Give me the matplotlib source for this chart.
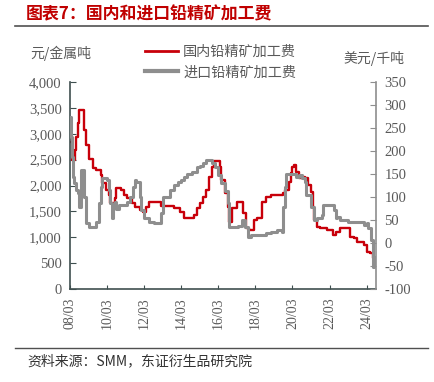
import pandas as pd
import matplotlib
matplotlib.use("Agg")
import matplotlib.pyplot as plt
import matplotlib.dates as mdates
from matplotlib.ticker import FuncFormatter, MultipleLocator
from matplotlib.lines import Line2D

# 国内铅精矿加工费 (元/金属吨), left axis
dom_dates = ["2008-03", "2008-04", "2008-06", "2008-07", "2008-08", "2008-09", "2008-12",
             "2009-01", "2009-03", "2009-06", "2009-08", "2009-11", "2009-12", "2010-02",
             "2010-04", "2010-05", "2010-08", "2010-09", "2010-12", "2011-02", "2011-04",
             "2011-07", "2011-09", "2011-12", "2012-02", "2012-04", "2012-06", "2013-02",
             "2013-10", "2014-02", "2014-05", "2014-11", "2015-01", "2015-03", "2015-05",
             "2015-07", "2015-09", "2015-11", "2015-12", "2016-04", "2016-05", "2016-07",
             "2016-09", "2016-10", "2016-12", "2017-03", "2017-07", "2017-09", "2017-11",
             "2018-02", "2018-04", "2018-07", "2018-10", "2019-01", "2019-09", "2019-10",
             "2020-01", "2020-02", "2020-03", "2020-04", "2020-05", "2020-07", "2020-09",
             "2020-11", "2020-12", "2021-01", "2021-03", "2021-04", "2021-05", "2021-07",
             "2021-09", "2022-01", "2022-05", "2022-07", "2022-10", "2023-04", "2023-07",
             "2023-09", "2024-01", "2024-03", "2024-05", "2024-07", "2024-08", "2024-09"]
dom_fee = [2850, 2500, 2690, 2940, 3200, 3450, 3070,
           2780, 2510, 2330, 2300, 2200, 2040, 1910,
           1816, 1656, 1752, 1945, 1913, 1816, 1752,
           1656, 1591, 1527, 1494, 1591, 1687, 1600,
           1560, 1494, 1366, 1430, 1559, 1656, 1784,
           1913, 2170, 2363, 2480, 2363, 2106, 1849,
           1591, 1301, 1559, 1687, 1462, 1172, 1140,
           1333, 1366, 1687, 1772, 1816, 1849, 1913,
           2073, 2248, 2363, 2396, 2267, 2138, 2170,
           2106, 2138, 2010, 1880, 1591, 1333, 1204,
           1172, 1140, 1043, 1108, 1172, 1010, 978,
           914, 850, 721, 688, 592, 560, 560]

# 进口铅精矿加工费 (美元/千吨), right axis
imp_dates = ["2008-03-01", "2008-03-15", "2008-04-01", "2008-04-20", "2008-05-15", "2008-07",
             "2008-08", "2008-09", "2008-10", "2008-12", "2009-01", "2009-03", "2009-08",
             "2009-10", "2009-11", "2009-12", "2010-03", "2010-04", "2010-05", "2010-06",
             "2010-07", "2010-08", "2010-09", "2010-11", "2011-04", "2011-06", "2011-08",
             "2011-09", "2011-10", "2011-12", "2012-01", "2012-03", "2012-06", "2012-09",
             "2013-02", "2013-03", "2013-08", "2013-10", "2014-01", "2014-03", "2014-05",
             "2014-07", "2014-10", "2015-01", "2015-03", "2015-05", "2015-07", "2015-11",
             "2016-01", "2016-03", "2016-05", "2016-07", "2016-09", "2016-10", "2017-04",
             "2017-06", "2017-08", "2017-10", "2017-12", "2018-10", "2019-01", "2019-05",
             "2019-08", "2019-09", "2019-10", "2019-11", "2020-05", "2020-07", "2020-09",
             "2020-11", "2020-12", "2021-03", "2021-05", "2021-07", "2021-10", "2021-11",
             "2022-06", "2022-07", "2022-08", "2022-10", "2023-03", "2024-01", "2024-03",
             "2024-04", "2024-06", "2024-07", "2024-08", "2024-09"]
imp_fee = [275, 231, 188, 144, 130, 115,
           108, 79, 159, 100, 43, 35, 46,
           86, 122, 141, 137, 115, 86, 54,
           83, 90, 75, 83, 90, 100, 122,
           138, 133, 100, 72, 54, 46, 43,
           65, 100, 115, 126, 133, 137, 143,
           151, 155, 165, 167, 173, 180, 173,
           166, 148, 130, 112, 86, 35, 37,
           50, 35, 14, 17, 21, 25, 28,
           23, 79, 122, 151, 144, 148, 141,
           133, 104, 79, 50, 54, 61, 83,
           72, 54, 57, 50, 46, 39, 43,
           32, 7, -52, -30, -30]

tick_dates = ["2008-03", "2010-03", "2012-03", "2014-03", "2016-03",
              "2018-03", "2020-03", "2022-03", "2024-03"]

RED = "#C8000A"
GREY = "#8E8E8E"
AXC = "#3F4F4F"
TXT = "#595959"
CJK = ["Noto Sans CJK SC", "DejaVu Sans"]
SERIF = ["Liberation Serif", "DejaVu Serif"]

dom_x = pd.to_datetime(dom_dates, format="ISO8601")
imp_x = pd.to_datetime(imp_dates, format="ISO8601")

fig = plt.figure(figsize=(4.34, 3.82), dpi=100)
ax = fig.add_axes([70 / 434, 1 - 289 / 382, 306 / 434, 207 / 382])
ax2 = ax.twinx()

ax.plot(dom_x, dom_fee, color=RED, lw=1.7, drawstyle="steps-post")
ax2.plot(imp_x, imp_fee, color=GREY, lw=2.2, drawstyle="steps-post")

ax.set_xlim(pd.Timestamp("2008-03-01"), pd.Timestamp("2024-09-01"))
ax.set_ylim(0, 4000)
ax2.set_ylim(-100, 350)
ax.yaxis.set_major_locator(MultipleLocator(500))
ax2.yaxis.set_major_locator(MultipleLocator(50))
ax.yaxis.set_major_formatter(FuncFormatter(lambda v, p: f"{v:,.0f}"))
ax2.yaxis.set_major_formatter(FuncFormatter(lambda v, p: f"{v:.0f}"))
ax.set_xticks(pd.to_datetime(tick_dates))
ax.xaxis.set_major_formatter(mdates.DateFormatter("%y/%m"))

for s in ["top", "right"]:
    ax.spines[s].set_visible(False)
for s in ["top", "left", "bottom"]:
    ax2.spines[s].set_visible(False)
ax.spines["left"].set_color(AXC)
ax.spines["bottom"].set_color(AXC)
ax2.spines["right"].set_color(GREY)
for sp in [ax.spines["left"], ax.spines["bottom"], ax2.spines["right"]]:
    sp.set_linewidth(1.2)

ax.tick_params(axis="y", direction="in", length=4, color=AXC, labelcolor=TXT, pad=6)
ax.tick_params(axis="x", direction="in", length=3, color=AXC, labelcolor=TXT, pad=6,
               labelrotation=90)
ax2.tick_params(axis="y", direction="in", length=4, color=GREY, labelcolor=TXT, pad=6)
for lab in ax.get_yticklabels() + ax2.get_yticklabels():
    lab.set_fontfamily(SERIF)
    lab.set_fontsize(10.5)
for lab in ax.get_xticklabels():
    lab.set_fontfamily(SERIF)
    lab.set_fontsize(10)

# axis unit labels
fig.text(30 / 434, 1 - 53 / 382, "元/金属吨", family=CJK, fontsize=10, color=TXT,
         ha="left", va="center")
fig.text(343 / 434, 1 - 58 / 382, "美元/千吨", family=CJK, fontsize=10, color=TXT,
         ha="left", va="center")

# legend
handles = [Line2D([], [], color=RED, lw=2), Line2D([], [], color=GREY, lw=3)]
leg = fig.legend(handles, ["国内铅精矿加工费", "进口铅精矿加工费"], loc="upper left",
                 bbox_to_anchor=(145 / 434, 1 - 45 / 382), frameon=False,
                 borderpad=0, borderaxespad=0, handlelength=2.3, handletextpad=0.4,
                 labelspacing=0.45, prop={"family": CJK, "size": 10.2})
for t in leg.get_texts():
    t.set_color(TXT)

# title and source
fig.text(26 / 434, 1 - 14 / 382, "图表7：国内和进口铅精矿加工费", family=CJK,
         fontsize=12.2, fontweight="bold", color="#C00000", ha="left", va="center")
fig.add_artist(Line2D([15 / 434, 428 / 434], [1 - 26 / 382, 1 - 26 / 382],
                      color="#505050", lw=1.2))
fig.add_artist(Line2D([15 / 434, 428 / 434], [1 - 348 / 382, 1 - 348 / 382],
                      color="#505050", lw=1.0))
fig.text(27 / 434, 1 - 361 / 382, "资料来源：SMM，东证衍生品研究院", family=CJK,
         fontsize=10, color="#333333", ha="left", va="center")

fig.savefig("out.png", dpi=100)
